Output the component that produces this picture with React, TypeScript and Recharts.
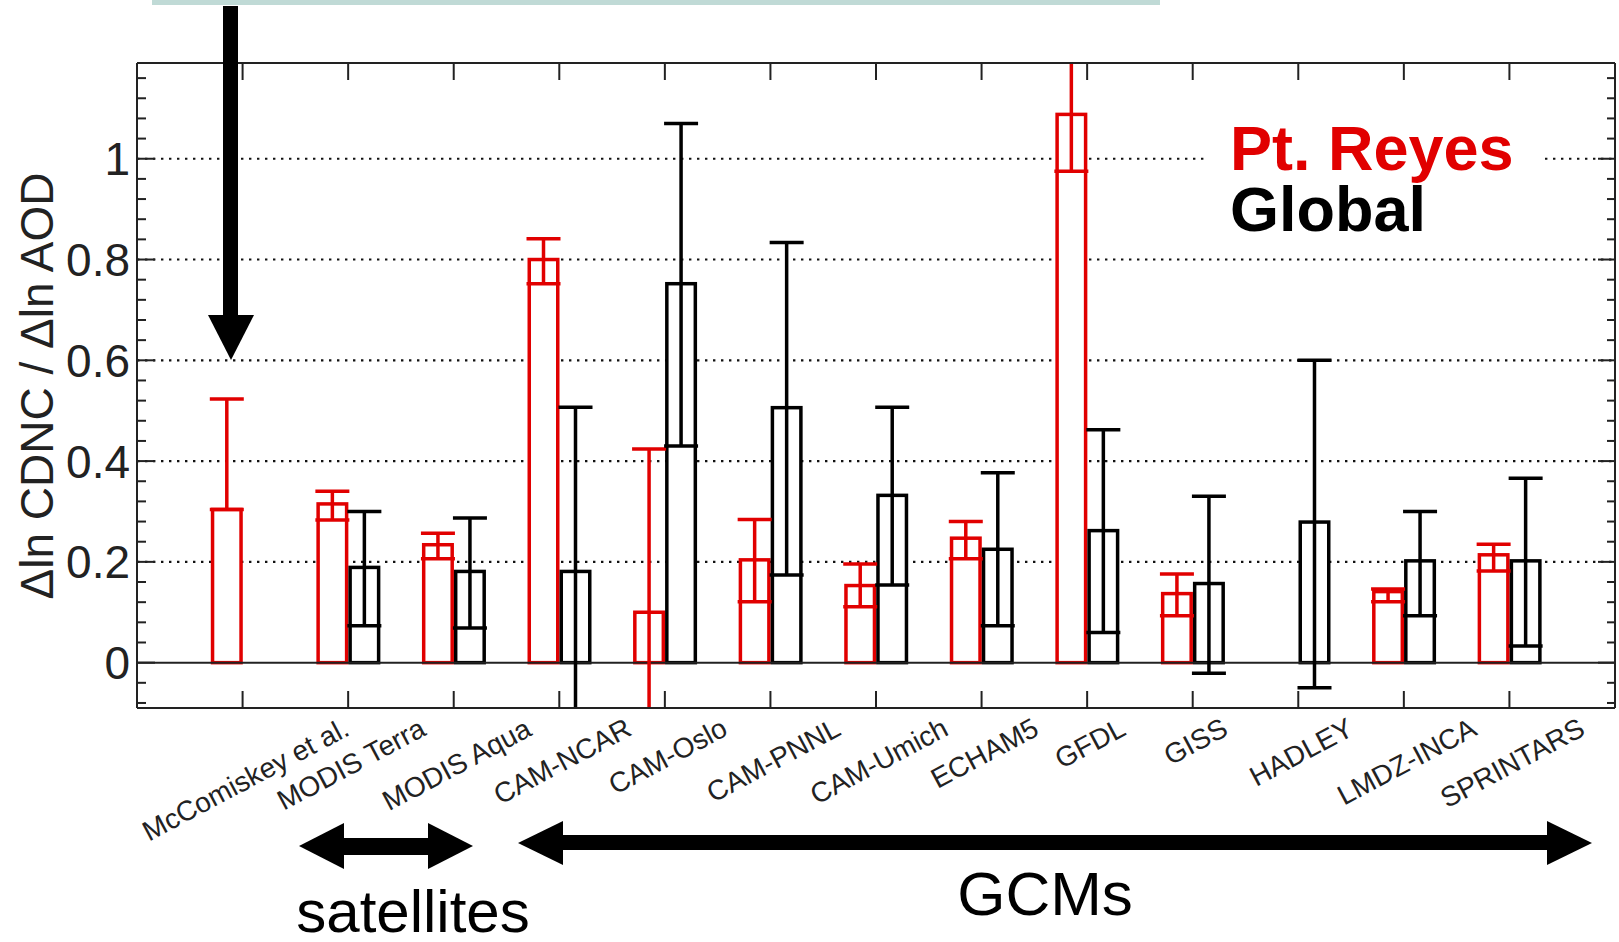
import React from 'react';
import { BarChart, Bar, XAxis, YAxis, CartesianGrid, ReferenceLine, ErrorBar } from 'recharts';

const categories = [
  'McComiskey et al.', 'MODIS Terra', 'MODIS Aqua', 'CAM-NCAR', 'CAM-Oslo', 'CAM-PNNL',
  'CAM-Umich', 'ECHAM5', 'GFDL', 'GISS', 'HADLEY', 'LMDZ-INCA', 'SPRINTARS',
];

// Pt. Reyes (red)
const reyesValues = [0.304, 0.315, 0.234, 0.8, 0.1, 0.204, 0.153, 0.247, 1.088, 0.137, null, 0.141, 0.214];
const reyesLow = [0.304, 0.283, 0.206, 0.752, -0.2, 0.121, 0.111, 0.206, 0.975, 0.093, null, 0.121, 0.182];
const reyesHigh = [0.523, 0.34, 0.257, 0.841, 0.424, 0.284, 0.196, 0.28, 1.3, 0.176, null, 0.146, 0.235];

// Global (black)
const globalValues = [null, 0.189, 0.181, 0.181, 0.752, 0.506, 0.332, 0.225, 0.262, 0.157, 0.279, 0.202, 0.202];
const globalLow = [null, 0.073, 0.069, -0.2, 0.43, 0.174, 0.154, 0.073, 0.06, -0.021, -0.05, 0.093, 0.033];
const globalHigh = [null, 0.3, 0.287, 0.507, 1.07, 0.834, 0.507, 0.377, 0.462, 0.33, 0.6, 0.3, 0.366];

const yTicks = [
  -0.08, -0.04, 0, 0.04, 0.08, 0.12, 0.16, 0.2, 0.24, 0.28, 0.32, 0.36, 0.4, 0.44, 0.48, 0.52,
  0.56, 0.6, 0.64, 0.68, 0.72, 0.76, 0.8, 0.84, 0.88, 0.92, 0.96, 1, 1.04, 1.08, 1.12, 1.16,
];
const yLabels = [0, 0.2, 0.4, 0.6, 0.8, 1];
const gridValues = [0.2, 0.4, 0.6, 0.8, 1];

const W = 1619;
const H = 942;
const PLOT_LEFT = 137;
const PLOT_RIGHT = 1615;
const PLOT_TOP = 63;
const PLOT_BOTTOM = 708;
const RED = '#e10000';
const INK = '#222';
const FONT = '"Liberation Sans", Arial, Helvetica, sans-serif';
const LABEL_SIZE = 28;
const LABEL_ANGLE = 28;
const STROKE = 3.5;

const rows = categories.map((name, i) => {
  const r = reyesValues[i];
  const g = globalValues[i];
  return {
    name,
    reyes: r,
    reyesErr: r == null ? null : [r - (reyesLow[i] as number), (reyesHigh[i] as number) - r],
    global: g,
    globalErr: g == null ? null : [g - (globalLow[i] as number), (globalHigh[i] as number) - g],
  };
});

let ctx: CanvasRenderingContext2D | null = null;
function textWidth(s: string, size: number) {
  if (!ctx) ctx = document.createElement('canvas').getContext('2d');
  if (!ctx) return s.length * size * 0.55;
  ctx.font = `${size}px "Liberation Sans"`;
  return ctx.measureText(s).width;
}

const OpenBar = (color: string) => (props: any) => {
  const { x, y, width, height } = props;
  if (height == null || width == null) return <g />;
  const inset = STROKE / 2;
  return (
    <rect x={x + inset} y={y} width={width - STROKE} height={height} fill="#fff" stroke={color} strokeWidth={STROKE} />
  );
};

const BottomTick = (props: any) => {
  const { x, payload } = props;
  const label = String(payload.value);
  const a = (LABEL_ANGLE * Math.PI) / 180;
  const len = textWidth(label, LABEL_SIZE);
  const boxH = len * Math.sin(a) + LABEL_SIZE * 0.8 * Math.cos(a);
  const cx = x + 3;
  const cy = 716 + boxH / 2;
  return (
    <g>
      <line x1={x} x2={x} y1={PLOT_BOTTOM} y2={PLOT_BOTTOM - 17} stroke={INK} strokeWidth={2} />
      <text
        x={cx}
        y={cy}
        textAnchor="middle"
        dominantBaseline="central"
        fontSize={LABEL_SIZE}
        fontFamily={FONT}
        fill={INK}
        transform={`rotate(-${LABEL_ANGLE} ${cx} ${cy})`}
      >
        {label}
      </text>
    </g>
  );
};

const TopTick = (props: any) => {
  const { x } = props;
  return <line x1={x} x2={x} y1={PLOT_TOP} y2={PLOT_TOP + 17} stroke={INK} strokeWidth={2} />;
};

const LeftTick = (props: any) => {
  const { y, payload } = props;
  const major = yLabels.includes(payload.value);
  return (
    <g>
      <line x1={PLOT_LEFT} x2={PLOT_LEFT + (major ? 18 : 9)} y1={y} y2={y} stroke={INK} strokeWidth={2} />
      {major && (
        <text x={PLOT_LEFT - 7} y={y} dy="0.36em" textAnchor="end" fontSize={46} fontFamily={FONT} fill={INK}>
          {String(payload.value)}
        </text>
      )}
    </g>
  );
};

const RightTick = (props: any) => {
  const { y, payload } = props;
  const major = yLabels.includes(payload.value);
  return <line x1={PLOT_RIGHT} x2={PLOT_RIGHT - (major ? 17 : 8)} y1={y} y2={y} stroke={INK} strokeWidth={2} />;
};

const Overlay = () => (
  <svg width={W} height={H} style={{ position: 'absolute', left: 0, top: 0, pointerEvents: 'none' }}>
    <defs>
      <clipPath id="plotClip">
        <rect x={PLOT_LEFT} y={PLOT_TOP - 1} width={PLOT_RIGHT - PLOT_LEFT} height={PLOT_BOTTOM - PLOT_TOP + 2} />
      </clipPath>
    </defs>
    <rect x={152} y={0} width={1008} height={5} fill="#c0dad6" />
    {/* y axis title */}
    <text
      x={53}
      y={386}
      textAnchor="middle"
      fontSize={46}
      fontFamily={FONT}
      fill={INK}
      transform="rotate(-90 53 386)"
    >
      Δln CDNC / Δln AOD
    </text>
    {/* big arrow */}
    <rect x={223} y={6} width={15} height={310} fill="#000" />
    <polygon points="208,315 254,315 231,360" fill="#000" />
    {/* satellites arrow */}
    <rect x={343} y={838} width={86} height={17} fill="#000" />
    <polygon points="299,846 344,823 344,869" fill="#000" />
    <polygon points="473,846 428,823 428,869" fill="#000" />
    {/* GCMs arrow */}
    <rect x={562} y={835} width={986} height={15} fill="#000" />
    <polygon points="518,843 563,821 563,865" fill="#000" />
    <polygon points="1592,843 1547,821 1547,865" fill="#000" />
    <text x={413} y={932} textAnchor="middle" fontSize={60} fontFamily={FONT} fill="#000">satellites</text>
    <text x={1045} y={915} textAnchor="middle" fontSize={62} fontFamily={FONT} fill="#000">GCMs</text>
    {/* legend */}
    <rect x={1206} y={112} width={338} height={128} fill="#fff" />
    <text x={1230} y={170} fontSize={63} fontWeight="bold" fontFamily={FONT} fill={RED}>Pt. Reyes</text>
    <text x={1230} y={231} fontSize={63} fontWeight="bold" fontFamily={FONT} fill="#000">Global</text>
  </svg>
);

export default function App() {
  return (
    <div style={{ position: 'absolute', left: 0, top: 0, width: W, height: H, background: '#fff', fontFamily: FONT }}>
      <BarChart
        width={W}
        height={H}
        data={rows}
        margin={{ top: 0, right: 0, bottom: 0, left: 0 }}
        barGap={0}
        barSize={32}
      >
        <CartesianGrid
          horizontal
          vertical={false}
          horizontalValues={gridValues}
          stroke="#111"
          strokeWidth={2.2}
          strokeDasharray="2.4 5.6"
        />
        <XAxis
          dataKey="name"
          height={H - PLOT_BOTTOM}
          padding={{ left: 52.8, right: 52.8 }}
          interval={0}
          tickLine={false}
          tick={BottomTick}
          axisLine={{ stroke: INK, strokeWidth: 2 }}
        />
        <XAxis
          xAxisId="top"
          orientation="top"
          dataKey="name"
          height={PLOT_TOP}
          padding={{ left: 52.8, right: 52.8 }}
          interval={0}
          tickLine={false}
          tick={TopTick}
          axisLine={{ stroke: INK, strokeWidth: 2 }}
        />
        <YAxis
          type="number"
          width={PLOT_LEFT}
          domain={[-0.09, 1.19]}
          allowDataOverflow
          ticks={yTicks}
          interval={0}
          tickLine={false}
          tick={LeftTick}
          axisLine={{ stroke: INK, strokeWidth: 2 }}
        />
        <YAxis
          yAxisId="r"
          orientation="right"
          type="number"
          width={W - PLOT_RIGHT}
          domain={[-0.09, 1.19]}
          allowDataOverflow
          ticks={yTicks}
          interval={0}
          tickLine={false}
          tick={RightTick}
          axisLine={{ stroke: INK, strokeWidth: 2 }}
        />
        <ReferenceLine y={0} stroke={INK} strokeWidth={2} />
        <Bar dataKey="reyes" isAnimationActive={false} shape={OpenBar(RED)}>
          <ErrorBar
            dataKey="reyesErr"
            width={17}
            strokeWidth={STROKE}
            stroke={RED}
            direction="y"
            clipPath="url(#plotClip)"
          />
        </Bar>
        <Bar dataKey="global" isAnimationActive={false} shape={OpenBar('#000')}>
          <ErrorBar
            dataKey="globalErr"
            width={17}
            strokeWidth={STROKE}
            stroke="#000"
            direction="y"
            clipPath="url(#plotClip)"
          />
        </Bar>
      </BarChart>
      <Overlay />
    </div>
  );
}
